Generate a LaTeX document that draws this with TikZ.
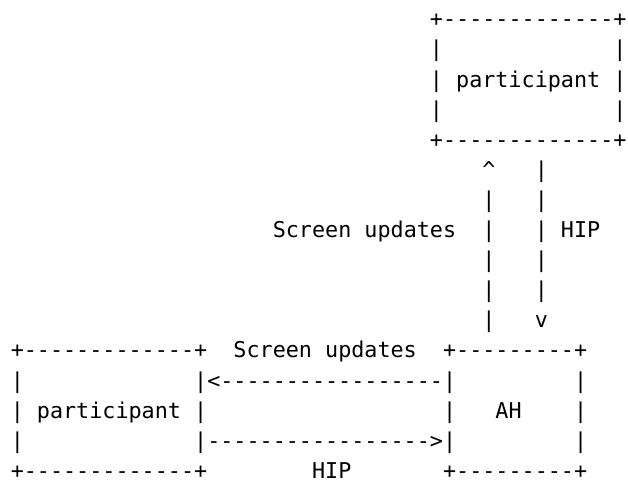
\documentclass[tikz,border=0pt]{standalone}
\usepackage{fontspec}
\setmonofont{DejaVu Sans Mono}
\usepackage{tikz}
\tikzstyle{asc}=[inner sep=0pt, outer sep=0pt, anchor=base west, font=\ttfamily\fontsize{21.76pt}{26pt}\selectfont]
\newcommand{\ascii}[4]{
	\node[asc] (#1) at (10.75pt+#2*13.1pt,-26.8pt-#3*30.1pt) {#4};
}

\begin{document}
\begin{tikzpicture}
	\useasboundingbox (0,0) rectangle (628pt,-485pt);
%	upper participant
	\ascii{ptop}{32}{0}{+-------------+}
	\ascii{plone}{32}{1}{|}
	\ascii{prone}{46}{1}{|}
	\ascii{pmid}{32}{2}{| participant |}
	\ascii{pltwo}{32}{3}{|}
	\ascii{prtwo}{46}{3}{|}
	\ascii{pbot}{32}{4}{+-------------+}
%	vertical arrows
	\ascii{uphead}{36}{5}{\textasciicircum}
	\ascii{dntail}{40}{5}{|}
	\foreach \r in {6,...,10}
		\ascii{up\r}{36}{\r}{|};
	\foreach \r in {6,...,9}
		\ascii{dn\r}{40}{\r}{|};
	\ascii{dnhead}{40}{10}{v}
	\ascii{uplabel}{20}{7}{Screen updates}
	\ascii{dnlabel}{42}{7}{HIP}
%	lower participant
	\ascii{qtop}{0}{11}{+-------------+}
	\ascii{qlone}{0}{12}{|}
	\ascii{qmid}{0}{13}{| participant |}
	\ascii{qltwo}{0}{14}{|}
	\ascii{qbot}{0}{15}{+-------------+}
%	horizontal arrows
	\ascii{left}{14}{12}{|<-----------------|}
	\ascii{right}{14}{14}{|----------------->|}
	\ascii{leftlabel}{17}{11}{Screen updates}
	\ascii{rightlabel}{23}{15}{HIP}
%	AH
	\ascii{atop}{33}{11}{+---------+}
	\ascii{arone}{43}{12}{|}
	\ascii{alab}{33}{13}{|}
	\ascii{name}{37}{13}{AH}
	\ascii{artwo}{43}{13}{|}
	\ascii{arthree}{43}{14}{|}
	\ascii{abot}{33}{15}{+---------+}
\end{tikzpicture}
\end{document}
